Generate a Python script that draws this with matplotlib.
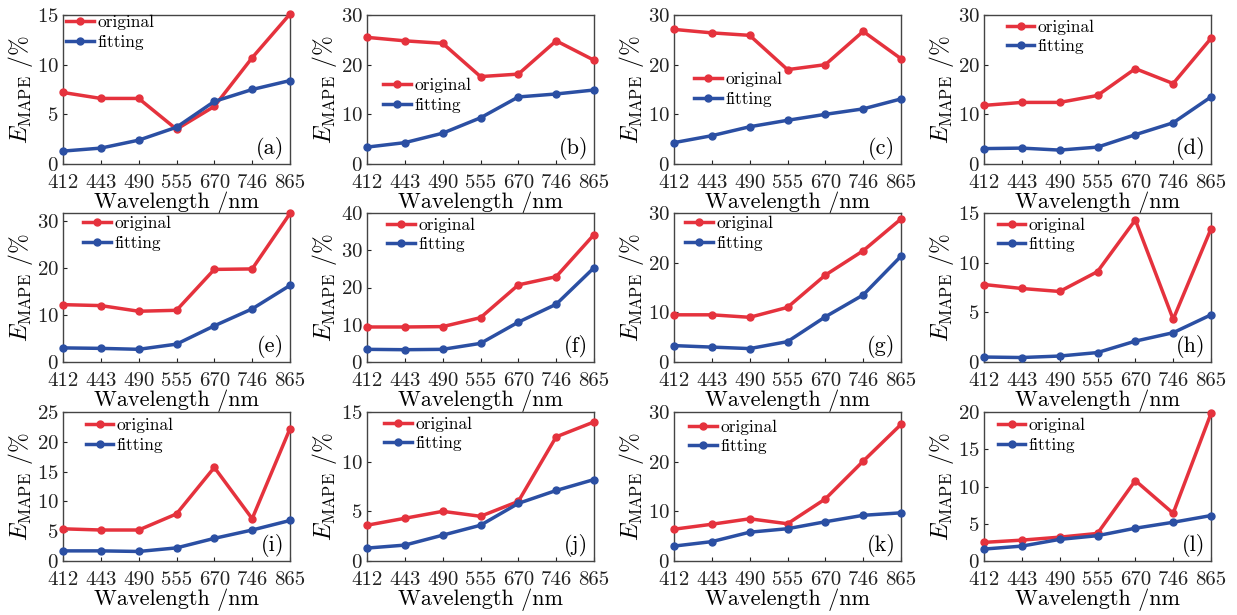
import matplotlib
matplotlib.use("Agg")
import matplotlib.pyplot as plt
import numpy as np

plt.rcParams["mathtext.fontset"] = "cm"
plt.rcParams["font.family"] = ["cmr10", "DejaVu Serif"]
plt.rcParams["axes.formatter.use_mathtext"] = True

wavelengths = ["412", "443", "490", "555", "670", "746", "865"]
panel_tags = ["(a)", "(b)", "(c)", "(d)", "(e)", "(f)", "(g)", "(h)", "(i)", "(j)", "(k)", "(l)"]

original_a = [7.2, 6.6, 6.6, 3.5, 5.8, 10.7, 15.1]
fitting_a = [1.3, 1.6, 2.4, 3.7, 6.3, 7.5, 8.4]
original_b = [25.5, 24.8, 24.3, 17.6, 18.1, 24.8, 20.9]
fitting_b = [3.4, 4.3, 6.2, 9.3, 13.5, 14.1, 14.9]
original_c = [27.1, 26.4, 25.9, 19.0, 20.0, 26.7, 21.2]
fitting_c = [4.3, 5.7, 7.5, 8.8, 10.0, 11.1, 13.1]
original_d = [11.8, 12.4, 12.4, 13.8, 19.2, 16.2, 25.3]
fitting_d = [3.1, 3.2, 2.8, 3.4, 5.9, 8.3, 13.5]
original_e = [12.2, 12.0, 10.8, 11.0, 19.7, 19.8, 31.6]
fitting_e = [3.0, 2.9, 2.7, 3.8, 7.7, 11.3, 16.3]
original_f = [9.4, 9.4, 9.5, 11.9, 20.7, 22.9, 34.2]
fitting_f = [3.4, 3.3, 3.4, 5.0, 10.7, 15.5, 25.3]
original_g = [9.5, 9.5, 9.0, 11.0, 17.5, 22.4, 28.8]
fitting_g = [3.3, 3.0, 2.7, 4.1, 9.1, 13.5, 21.3]
original_h = [7.8, 7.4, 7.1, 9.1, 14.3, 4.3, 13.4]
fitting_h = [0.5, 0.45, 0.6, 0.95, 2.1, 2.95, 4.75]
original_i = [5.4, 5.2, 5.2, 7.9, 15.7, 7.1, 22.2]
fitting_i = [1.7, 1.7, 1.6, 2.2, 3.8, 5.2, 6.8]
original_j = [3.6, 4.3, 5.0, 4.5, 6.0, 12.5, 14.0]
fitting_j = [1.3, 1.6, 2.6, 3.6, 5.8, 7.1, 8.2]
original_k = [6.4, 7.4, 8.5, 7.5, 12.5, 20.1, 27.5]
fitting_k = [3.0, 3.9, 5.8, 6.5, 7.9, 9.2, 9.7]
original_l = [2.5, 2.8, 3.2, 3.7, 10.8, 6.4, 19.8]
fitting_l = [1.6, 2.0, 2.9, 3.4, 4.4, 5.2, 6.1]

originals = [original_a, original_b, original_c, original_d, original_e, original_f,
             original_g, original_h, original_i, original_j, original_k, original_l]
fittings = [fitting_a, fitting_b, fitting_c, fitting_d, fitting_e, fitting_f,
            fitting_g, fitting_h, fitting_i, fitting_j, fitting_k, fitting_l]

# y-axis limits and tick step for each panel
y_limits = [15, 30, 30, 30, 31.7, 40, 30, 15, 25, 15, 30, 20]
y_steps = [5, 10, 10, 10, 10, 10, 10, 5, 5, 5, 10, 5]

# upper-left anchor of each legend, in axes fraction
legend_anchor = [(0.015, 1.0), (0.07, 0.58), (0.09, 0.62), (0.10, 0.97),
                 (0.09, 0.98), (0.09, 0.97), (0.05, 0.98), (0.06, 0.97),
                 (0.10, 0.96), (0.075, 0.97), (0.065, 0.95), (0.06, 0.96)]

RED = "#e5323d"
BLUE = "#2b4fa3"

W, H = 1237, 615
fig = plt.figure(figsize=(W / 100, H / 100), dpi=100)

col_left = [63, 367, 674, 984]
col_width = 227
row_top = [15, 213, 412]
row_height = 149

x = np.arange(len(wavelengths))
for idx in range(12):
    r, c = divmod(idx, 4)
    left = col_left[c] / W
    bottom = 1 - (row_top[r] + row_height) / H
    ax = fig.add_axes([left, bottom, col_width / W, row_height / H])

    ax.plot(x, originals[idx], color=RED, lw=2.5, marker="o", ms=5,
            label="original", clip_on=False, zorder=3)
    ax.plot(x, fittings[idx], color=BLUE, lw=2.5, marker="o", ms=5,
            label="fitting", clip_on=False, zorder=3)

    ax.set_xlim(0, 6)
    ax.set_ylim(0, y_limits[idx])
    ax.set_xticks(x)
    ax.set_xticklabels(wavelengths)
    ax.set_yticks(np.arange(0, y_limits[idx] + 0.01, y_steps[idx]))
    ax.tick_params(direction="in", length=3, width=0.8, labelsize=15,
                   colors="#222222", top=False, right=False)
    ax.tick_params(axis="x", pad=7)
    ax.tick_params(axis="y", pad=3)
    for s in ax.spines.values():
        s.set_color("#444444")
        s.set_linewidth(1.0)

    ax.set_xlabel("Wavelength /nm", fontsize=16, labelpad=0)
    ax.set_ylabel(r"$E_{\mathrm{MAPE}}$ /%", fontsize=17, labelpad=1)

    ax.legend(loc="upper left", bbox_to_anchor=legend_anchor[idx], frameon=False,
              fontsize=12.5, borderpad=0, borderaxespad=0, handlelength=1.6,
              handletextpad=0.2, labelspacing=0.25)

    ax.text(0.975, 0.03, panel_tags[idx], transform=ax.transAxes,
            ha="right", va="bottom", fontsize=16)

fig.savefig("out.png", dpi=100)
